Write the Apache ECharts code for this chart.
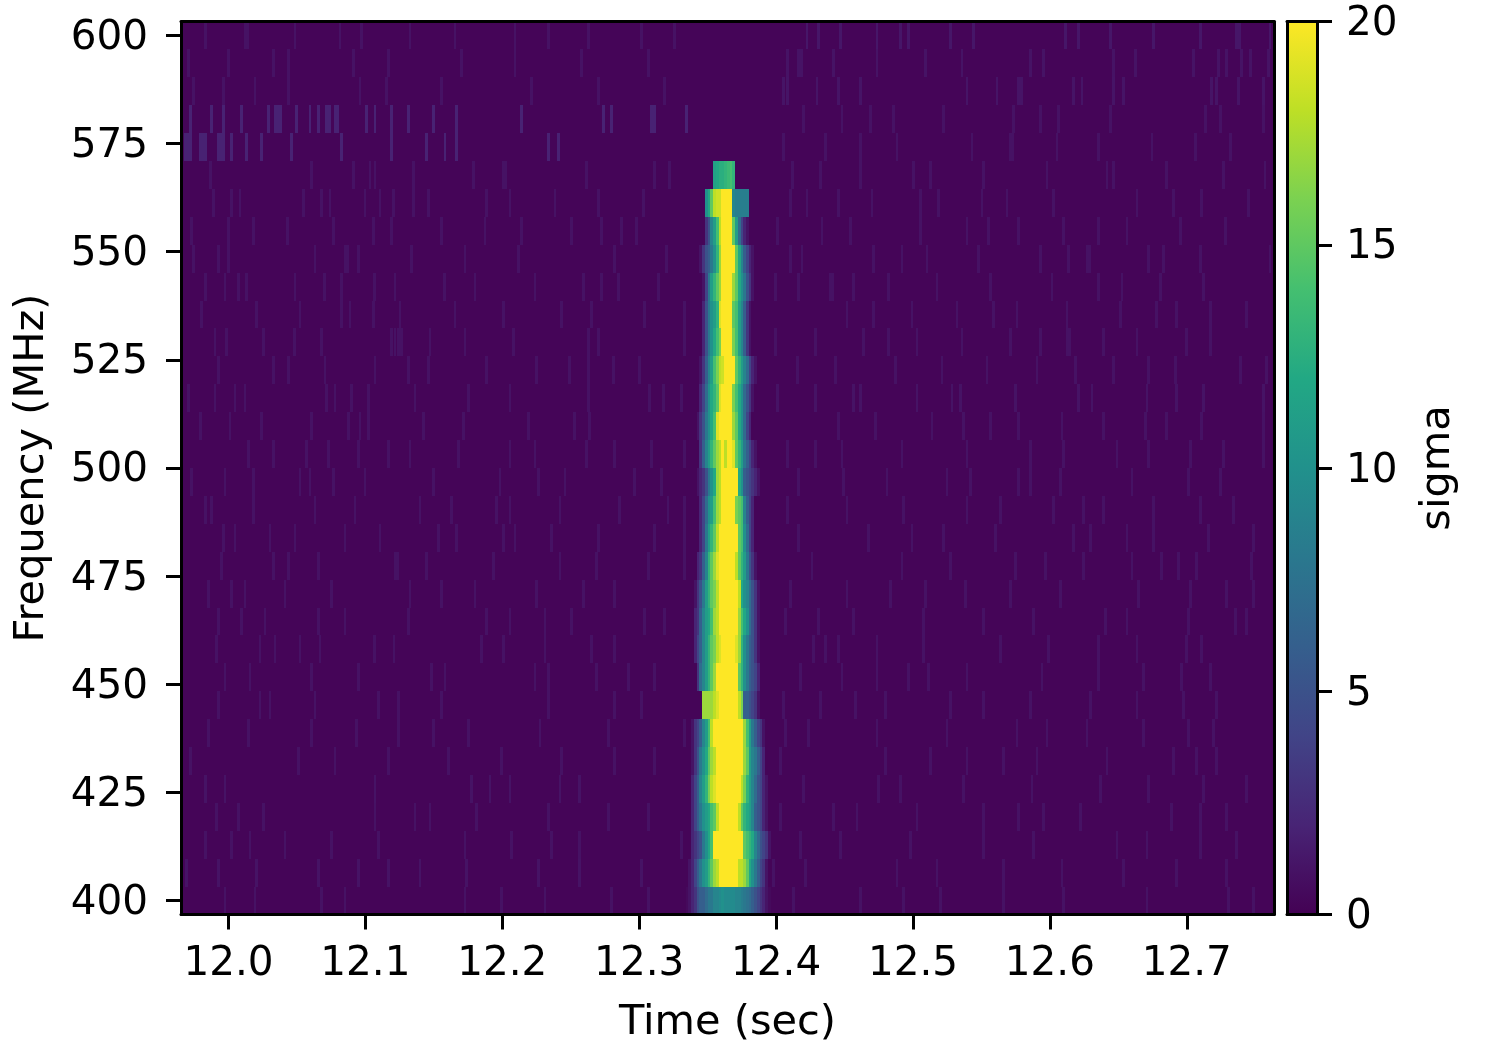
<!DOCTYPE html>
<html><head><meta charset="utf-8"><style>html,body{margin:0;padding:0;background:#fff}#c{width:1500px;height:1050px}</style>
<script src="https://cdn.jsdelivr.net/npm/echarts@6/dist/echarts.min.js"></script></head><body><div id="c"></div>
<script>
const xTicks=[12.0,12.1,12.2,12.3,12.4,12.5,12.6,12.7];
const yTicks=[400,425,450,475,500,525,550,575,600];
const viridis=['#440154','#482475','#414487','#355f8d','#2a788e','#21918c','#22a884','#44bf70','#7ad151','#bddf26','#fde725'];
const xMin=11.9653,xMax=12.7637,yMin=396.76,yMax=603.2,sigmaMax=20;
const channelBottom=396.76,channelWidth=6.4512,channelCount=32;
const binWidth=0.002,pulseStart=12.334;
const baseLevel=0.25;
// sigma across the burst, one list per channel from the lowest frequency up, in 2 ms bins from pulseStart
const pulseRows=[
[.5,1,2,3,5,6,6,7,8,8,9,9,9.5,10,9.5,9.5,9.5,9.5,9,9,8.5,8,7.5,7,6,5,4,3,2,1,.5],
[0,1,2,4,6,8,10,11,13,15,17,18,20,20,20,20,20,20,20,18,18,17,15,12,10,8,6,4,3,1],
[0,0,2,3,4,5,8,10,12,14,20,20,20,20,20,20,20,20,20,20,20,15,14,13,12,9,7,5,4,3,1],
[0,0,2,4,6,8,10,11,12,14,15,18,20,20,20,20,20,20,20,18,15,13,12,11,9,6,5,4,2,1],
[0,0,2,4,6,9,11,13,16,18,19,20,20,20,20,20,20,20,20,20,18,16,13,11,9,7,5,4,2,1],
[0,0,1,3,5,8,10,12,15,17,18,20,20,20,20,20,20,20,20,20,20,17,15,11,9,8,6,4,2],
[0,0,1,3,4,6,9,11,14,18,20,20,20,20,20,20,20,20,20,20,20,17,14,11,8,6,4,3,1],
[0,0,0,0,0,0,17,17,17,17,18,19,20,20,20,20,20,20,20,18,16,6,6,5,4,3,1],
[0,0,0,0,3,7,9,11,13,15,17,20,20,20,20,20,20,20,20,15,13,10,8,6,5,4,2],
[0,0,0,2,4,6,9,11,13,15,16,18,19,20,20,20,20,20,19,17,13,10,8,6,5,3,1],
[0,0,0,2,3,6,9,11,12,14,17,18,20,20,20,20,20,20,20,17,14,12,10,7,5,3,1],
[0,0,0,1,3,5,8,11,13,15,16,18,20,20,20,20,20,20,20,18,12,10,9,7,5,3,1],
[0,0,0,0,2,3,6,9,13,15,17,19,20,20,20,20,20,20,18,15,13,11,8,5,3,1],
[0,0,0,0,0,2,4,8,11,13,15,18,20,20,20,20,20,20,20,15,14,10,7,4,2],
[0,0,0,0,0,2,4,7,10,11,14,17,18,20,20,20,20,20,16,15,14,9,6,4,2],
[0,0,0,0,1,2,3,5,8,10,12,17,18,20,20,20,20,20,20,12,10,6,5,4,3,2,1],
[0,0,0,0,0,3,6,9,11,13,15,17,18,20,18,20,20,19,15,13,11,8,6,4,2,1],
[0,0,0,0,1,3,5,8,10,12,14,19,20,20,20,20,20,17,15,12,10,7,4,2],
[0,0,0,0,0,2,4,7,10,12,13,15,19,20,20,20,20,16,14,12,10,7,5,3,1],
[0,0,0,0,0,1,3,6,9,11,14,16,18,18.5,20,20,20,20,15,13,11,9,7,4,2,1],
[0,0,0,0,0,0,2,5,8,10,12,14,16,20,20,20,20,16,14,11,9,6,3,1],
[0,0,0,0,0,0,2,5,8,10,11,13,19,20,20,20,20,15,14,11,9,6,3,1],
[0,0,0,0,0,0,1,4,8,11,13,15,17,20,20,20,20,17,15,12,10,8,5,3,1],
[0,0,0,0,0,1,3,5,6,8,10,13,17,20,20,20,20,20,15,12,9,6,4,2,1],
[0,0,0,0,0,0,0,3,5,9,11,14,18,20,20,20,20,15,11,7,4,2,1],
[0,0,0,0,0,0,0,10,12,15,18,18.5,18.5,20,20,20,20,9,8.5,8.5,8.5,8.5,8.5],
[0,0,0,0,0,0,0,0,0,0,11.5,12,12.5,12.5,13,13.5,14,13]
];
// brighter noise stripes, as offsets in 1/4110 s, one list per channel from the top channel down
const stripeUnit=1/4110,leftOrigin=11.9649,rightOrigin=12.3949;
const leftStripes=[
[70,190,198,340,475,540,685,820,1000,1100,1220,1380,1480],
[20,140,275,320,515,620,840,1000,1200,1400],
[35,125,220,320,535,615,780,1050,1250,1450],
[25,90,125,180,260,280,288,296,345,385,410,435,443,460,468,555,580,630,680,755,825,1020,1265,1290,1410,1418,1515],
[10,18,26,55,63,71,110,118,126,150,195,240,330,480,630,735,790,825,1100,1130],
[85,390,515,565,580,695,875,965,973,1215,1420,1465],
[95,150,175,365,420,445,550,595,635,695,740,915,985,1120,1250,1385],
[30,140,215,318,455,575,630,780,910,1020,1170,1260,1320,1365],
[35,110,140,400,490,498,530,690,850,1010,1300,1455],
[70,130,170,195,340,428,480,578,640,788,880,1060,1205,1260,1310,1430],
[60,225,355,480,505,575,655,820,965,1140,1230,1390,1510],
[100,135,245,338,420,630,640,650,660,745,850,995,1220,1250,1510],
[110,275,320,430,580,680,740,915,1065,1165,1220,1295,1375],
[20,100,160,190,435,460,510,560,700,860,985,1220,1405,1445,1500],
[55,145,240,390,500,535,560,725,845,1040,1180,1225],
[200,275,375,440,530,620,685,830,985,1060,1215,1300,1410,1510],
[30,130,215,355,385,455,550,755,955,1070,1150,1360,1440],
[70,90,215,400,520,715,810,945,985,1135,1315,1460,1510],
[125,160,265,340,490,595,770,825,965,1000,1110,1250,1420,1510],
[120,275,320,410,640,648,735,935,1135,1245,1400,1510],
[80,150,190,310,450,685,780,880,1065,1205,1300],
[110,180,250,410,490,680,915,985,1090,1170,1390,1450],
[105,235,280,355,415,578,637,900,965,1090,1230,1300],
[130,205,390,530,750,790,1060,1100,1245,1340,1420],
[110,235,265,400,590,650,780,1100,1300,1380],
[80,200,390,525,650,755,860,1075,1280,1510],
[25,350,460,620,800,960,1140,1300,1420],
[70,130,580,870,925,985,1135,1195],
[105,170,245,580,700,745,885,1100,1280,1400],
[70,150,205,310,450,590,850,990,1110,1195,1500],
[15,110,225,410,530,620,715,855,1070,1195,1380],
[130,220,420,490,850,960,1090,1290,1400]
];
const rightStripes=[
[110,145,210,320,390,415,540,610,885,925,1020,1150,1290,1400,1408,1500],
[50,85,93,190,320,465,575,780,820,1030,1095,1270,1345,1370,1415,1440,1495],
[40,50,140,205,270,590,680,745,753,910,935,1030,1060,1325,1340,1405,1480],
[100,215,300,370,520,730,810,865,1020,1305,1350,1480],
[40,165,270,380,605,720,728,860,985,1145,1275,1380],
[65,150,270,430,480,640,830,1010,1030,1190,1360,1485],
[60,110,205,305,450,505,635,710,850,1100,1210,1295,1435],
[20,155,240,450,590,655,745,880,985,1070,1230,1365],
[60,95,310,395,470,625,810,895,950,958,1135,1180,1290,1500],
[15,85,180,188,250,355,500,660,845,985,1055,1170,1300],
[230,310,425,560,670,740,890,1050,1160,1220,1320,1430],
[15,135,280,355,440,575,720,810,890,898,1000,1100,1250,1320],
[80,195,375,515,650,800,915,1030,1135,1215,1410,1490],
[20,135,250,270,440,545,570,735,925,965,1130,1220,1300,1480],
[205,315,485,580,660,745,875,1000,1125,1190,1295,1480],
[50,135,215,395,590,780,880,1040,1135,1260,1360,1480],
[85,220,350,530,600,745,780,870,1085,1255,1350],
[50,230,400,590,690,850,940,1000,1150,1290,1390],
[85,295,425,520,675,910,960,1070,1150,1315,1450],
[125,395,540,735,825,940,1085,1175,1225,1280,1445],
[60,230,360,465,585,720,870,1105,1260,1370,1450],
[45,145,250,460,640,790,1005,1070,1255,1395,1430],
[130,165,205,320,460,690,835,985,1100,1250,1295],
[90,215,320,415,475,590,815,985,1120,1235,1320],
[40,150,255,345,540,640,780,960,1100,1240,1340],
[45,115,320,530,740,830,950,1120,1255,1330],
[30,345,480,590,700,800,1010,1210,1280,1340],
[100,325,390,580,785,990,1135,1300,1430],
[30,190,260,440,640,745,820,930,1205,1290,1370],
[90,210,420,640,790,1040,1130,1290,1400],
[10,105,380,500,700,875,1060,1220,1370],
[70,270,400,510,700,880,1130,1375,1450]
];
// stripe sigma for each channel, top channel first (left part, then right part of the window)
const leftStripeLevel=[.95,.95,.95,1.9,1.9,.95,.95,.95,.95,.95,.95,.95,.95,.95,.95,.95,.95,.95,.95,.95,.95,.95,.95,.95,.95,.95,.95,1,.95,.95,1,.95];
const rightStripeLevel=[1.2,1,1.1,.95,.95,.95,.95,.95,.95,.95,.95,.95,.95,1,.95,.95,.95,.95,.95,.95,.95,.95,.95,.95,.95,.95,.95,.95,.95,.95,.95,.95];

const cells=[];
const f0=r=>channelBottom+r*channelWidth, f1=r=>channelBottom+(r+1)*channelWidth;
for(let r=0;r<channelCount;r++) cells.push([xMin,xMax,f0(r),f1(r),baseLevel]);
for(let k=0;k<channelCount;k++){
  const r=channelCount-1-k;
  leftStripes[k].forEach(s=>{const t=leftOrigin+s*stripeUnit;cells.push([t,t+binWidth,f0(r),f1(r),leftStripeLevel[k]]);});
  rightStripes[k].forEach(s=>{const t=rightOrigin+s*stripeUnit;cells.push([t,t+binWidth,f0(r),f1(r),rightStripeLevel[k]]);});
}
pulseRows.forEach((row,r)=>row.forEach((v,i)=>{ if(v>0){const t=pulseStart+i*binWidth;cells.push([t,t+binWidth,f0(r),f1(r),v]);}}));

const font='"DejaVu Sans"',fs=40.5,nfs=41.5,lw=3;
const line={show:true,onZero:false,lineStyle:{color:'#000',width:lw}};
const tick={length:15,lineStyle:{color:'#000',width:lw}};
const chart=echarts.init(document.getElementById('c'),null,{renderer:'canvas'});
const renderHeat=(p,api)=>{
  const a=api.coord([api.value(0),api.value(2)]),b=api.coord([api.value(1),api.value(3)]);
  const c=p.coordSys;
  const x0=Math.max(Math.round(a[0]),c.x),x1=Math.min(Math.round(b[0]),c.x+c.width);
  const y0=Math.round(b[1]),y1=Math.round(a[1]);
  if(x1<=x0) return;
  return {type:'rect',shape:{x:x0,y:y0,width:x1-x0,height:y1-y0},style:{fill:echarts.color.lerp(api.value(4)/sigmaMax,viridis),stroke:null}};
};
chart.setOption({
  animation:false,
  grid:[{left:181,top:21.5,width:1093,height:893},{left:1287,top:21.5,width:30,height:893}],
  xAxis:[
   {gridIndex:0,type:'value',min:xMin,max:xMax,position:'bottom',axisLine:line,splitLine:{show:false},
    axisTick:{...tick,customValues:xTicks},
    axisLabel:{customValues:xTicks,formatter:v=>Number(v).toFixed(1),fontFamily:font,fontSize:fs,color:'#000',margin:29},
    name:'Time (sec)',nameLocation:'middle',nameGap:88,nameTextStyle:{fontFamily:font,fontSize:nfs,color:'#000'},z:5},
   {gridIndex:0,type:'value',min:xMin,max:xMax,position:'top',axisLine:line,axisTick:{show:false},axisLabel:{show:false},splitLine:{show:false},z:5},
   {gridIndex:1,type:'value',min:0,max:1,position:'bottom',axisLine:line,axisTick:{show:false},axisLabel:{show:false},splitLine:{show:false},z:5},
   {gridIndex:1,type:'value',min:0,max:1,position:'top',axisLine:line,axisTick:{show:false},axisLabel:{show:false},splitLine:{show:false},z:5}
  ],
  yAxis:[
   {gridIndex:0,type:'value',min:yMin,max:yMax,position:'left',axisLine:line,splitLine:{show:false},
    axisTick:{...tick,customValues:yTicks},
    axisLabel:{customValues:yTicks,fontFamily:font,fontSize:fs,color:'#000',margin:33,verticalAlign:'top',lineHeight:6},
    name:'Frequency (MHz)',nameLocation:'middle',nameGap:128,nameRotate:90,nameTextStyle:{fontFamily:font,fontSize:nfs,color:'#000'},z:5},
   {gridIndex:0,type:'value',min:yMin,max:yMax,position:'right',axisLine:line,axisTick:{show:false},axisLabel:{show:false},splitLine:{show:false},z:5},
   {gridIndex:1,type:'value',min:0,max:sigmaMax,interval:5,position:'right',axisLine:line,splitLine:{show:false},
    axisTick:tick,axisLabel:{fontFamily:font,fontSize:fs,color:'#000',margin:29,verticalAlign:'top',lineHeight:6},
    name:'sigma',nameLocation:'middle',nameGap:100,nameRotate:90,nameTextStyle:{fontFamily:font,fontSize:nfs,color:'#000'},z:5},
   {gridIndex:1,type:'value',min:0,max:sigmaMax,position:'left',axisLine:line,axisTick:{show:false},axisLabel:{show:false},splitLine:{show:false},z:5}
  ],
  series:[
   {type:'custom',xAxisIndex:0,yAxisIndex:0,clip:true,silent:true,progressive:0,data:cells,encode:{x:[0,1],y:[2,3]},renderItem:renderHeat},
   {type:'custom',xAxisIndex:2,yAxisIndex:2,silent:true,data:[[0,1,0,sigmaMax]],encode:{x:[0,1],y:[2,3]},
    renderItem:(p,api)=>{
      const a=api.coord([api.value(0),api.value(2)]),b=api.coord([api.value(1),api.value(3)]);
      return {type:'rect',shape:{x:a[0],y:b[1],width:b[0]-a[0],height:a[1]-b[1]},
        style:{fill:new echarts.graphic.LinearGradient(0,1,0,0,viridis.map((c,i)=>({offset:i/(viridis.length-1),color:c})))}};
    }}
  ]
});
</script></body></html>
